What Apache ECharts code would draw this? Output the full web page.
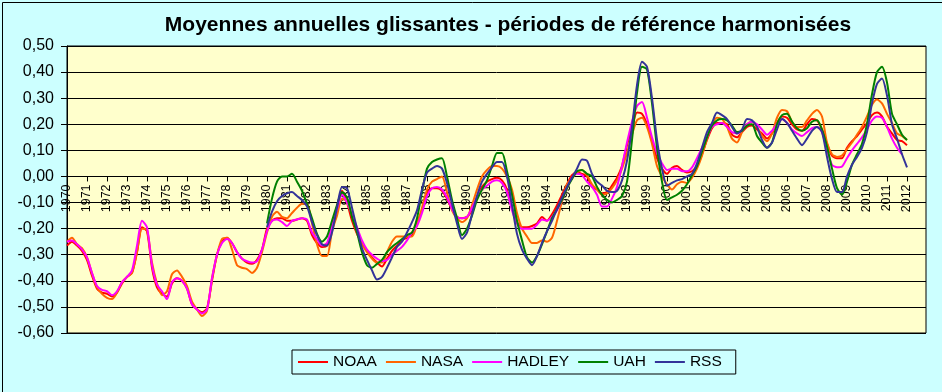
<!DOCTYPE html>
<html>
<head>
<meta charset="utf-8">
<script src="https://cdn.jsdelivr.net/npm/echarts@6/dist/echarts.min.js"></script>
<style>
html,body{margin:0;padding:0;background:#CCFFFF;}
#c{width:942px;height:392px;}
</style>
</head>
<body>
<div id="c"></div>
<script>
// Quarterly samples (step 0.25 year)
const surfaceStart = 1970;
const satelliteStart = 1980;
const step = 0.25;
const seriesNames = ['NOAA', 'NASA', 'HADLEY', 'UAH', 'RSS'];
const yearLabels = [];
for (let y = 1970; y <= 2012; y++) yearLabels.push(y);
const yMin = -0.6, yMax = 0.5, yStep = 0.1;

const noaa = [
-0.265,-0.25,-0.265,-0.285, -0.32,-0.38,-0.43,-0.445, -0.45,-0.46,-0.445,-0.41, -0.385,-0.37,-0.29,-0.195,
-0.21,-0.35,-0.425,-0.45, -0.46,-0.41,-0.39,-0.40, -0.43,-0.49,-0.51,-0.52, -0.505,-0.40,-0.30,-0.25,
-0.235,-0.255,-0.29,-0.315, -0.33,-0.335,-0.32,-0.28,
-0.20,-0.17,-0.16,-0.16, -0.17,-0.17,-0.165,-0.16, -0.17,-0.225,-0.255,-0.27, -0.265,-0.19,-0.115,-0.055,
-0.10,-0.17,-0.22,-0.255, -0.285,-0.31,-0.33,-0.345, -0.315,-0.285,-0.265,-0.245, -0.235,-0.225,-0.18,-0.13,
-0.065,-0.045,-0.045,-0.055, -0.085,-0.125,-0.155,-0.16,
-0.155,-0.13,-0.08,-0.04, -0.02,-0.01,-0.005,-0.015, -0.05,-0.12,-0.175,-0.195, -0.195,-0.19,-0.18,-0.155,
-0.17,-0.145,-0.11,-0.07, -0.03,0.005,0.015,0.01, 0.0,-0.04,-0.05,-0.065, -0.06,-0.035,-0.005,0.04,
0.12,0.185,0.245,0.24, 0.20,0.135,0.07,0.03,
0.01,0.033,0.04,0.025, 0.015,0.02,0.04,0.085, 0.14,0.185,0.205,0.205, 0.2,0.16,0.15,0.17,
0.19,0.195,0.18,0.165, 0.145,0.165,0.205,0.23, 0.225,0.2,0.18,0.175, 0.2,0.22,0.215,0.18,
0.125,0.08,0.07,0.07, 0.11,0.135,0.155,0.18,
0.205,0.235,0.245,0.23, 0.19,0.165,0.14,0.135, 0.12
];
const nasa = [
-0.25,-0.235,-0.26,-0.275, -0.31,-0.37,-0.425,-0.45, -0.465,-0.47,-0.445,-0.405, -0.385,-0.37,-0.29,-0.20,
-0.205,-0.33,-0.41,-0.455, -0.44,-0.375,-0.36,-0.385, -0.42,-0.48,-0.51,-0.535, -0.515,-0.39,-0.30,-0.24,
-0.235,-0.28,-0.34,-0.35, -0.355,-0.37,-0.35,-0.29,
-0.215,-0.155,-0.135,-0.155, -0.16,-0.14,-0.12,-0.105, -0.105,-0.18,-0.26,-0.305, -0.305,-0.21,-0.15,-0.085,
-0.095,-0.15,-0.215,-0.26, -0.29,-0.315,-0.33,-0.33, -0.29,-0.25,-0.23,-0.23, -0.23,-0.23,-0.185,-0.12,
-0.05,-0.02,-0.01,0.0, -0.06,-0.13,-0.16,-0.175,
-0.16,-0.11,-0.05,0.0, 0.025,0.04,0.04,0.03, 0.0,-0.05,-0.14,-0.20, -0.23,-0.255,-0.255,-0.245,
-0.25,-0.235,-0.17,-0.095, -0.03,-0.005,0.015,0.025, 0.005,-0.03,-0.05,-0.07, -0.065,-0.045,-0.015,0.03,
0.09,0.16,0.215,0.225, 0.19,0.125,0.04,0.0,
-0.03,-0.05,-0.03,-0.02, -0.025,-0.005,0.03,0.08, 0.145,0.2,0.225,0.22, 0.19,0.145,0.13,0.17,
0.2,0.21,0.19,0.155, 0.135,0.165,0.225,0.255, 0.25,0.21,0.19,0.19, 0.215,0.24,0.255,0.23,
0.13,0.085,0.075,0.08, 0.105,0.13,0.16,0.19,
0.23,0.275,0.295,0.28, 0.24,0.205,0.165,0.155, 0.14
];
const hadley = [
-0.25,-0.245,-0.26,-0.28, -0.31,-0.37,-0.42,-0.435, -0.44,-0.455,-0.44,-0.405, -0.385,-0.36,-0.265,-0.17,
-0.195,-0.34,-0.415,-0.44, -0.47,-0.405,-0.39,-0.40, -0.43,-0.49,-0.51,-0.525, -0.51,-0.39,-0.30,-0.255,
-0.24,-0.255,-0.29,-0.315, -0.325,-0.33,-0.325,-0.28,
-0.21,-0.17,-0.165,-0.175, -0.19,-0.17,-0.165,-0.16, -0.165,-0.215,-0.24,-0.265, -0.255,-0.19,-0.125,-0.07,
-0.10,-0.145,-0.195,-0.245, -0.28,-0.30,-0.315,-0.325, -0.32,-0.30,-0.285,-0.27, -0.245,-0.215,-0.19,-0.14,
-0.075,-0.045,-0.04,-0.05, -0.08,-0.125,-0.155,-0.16,
-0.155,-0.12,-0.08,-0.05, -0.035,-0.02,-0.015,-0.025, -0.06,-0.13,-0.18,-0.20, -0.20,-0.20,-0.185,-0.165,
-0.17,-0.155,-0.13,-0.09, -0.045,-0.005,0.01,0.005, -0.02,-0.04,-0.07,-0.115, -0.115,-0.085,-0.04,0.04,
0.13,0.21,0.27,0.285, 0.225,0.15,0.09,0.05,
0.025,0.03,0.03,0.02, 0.02,0.035,0.07,0.11, 0.15,0.19,0.2,0.205, 0.19,0.17,0.165,0.175,
0.2,0.21,0.2,0.18, 0.16,0.175,0.2,0.22, 0.205,0.18,0.165,0.155, 0.17,0.185,0.19,0.17,
0.10,0.045,0.035,0.038, 0.07,0.10,0.125,0.15,
0.18,0.215,0.23,0.225, 0.19,0.145,0.11,0.085
];
const uah = [
-0.18,-0.085,-0.02,0.0, 0.0,0.01,-0.02,-0.055, -0.105,-0.16,-0.22,-0.25, -0.23,-0.17,-0.11,-0.06,
-0.08,-0.155,-0.215,-0.29, -0.34,-0.35,-0.335,-0.32, -0.29,-0.27,-0.255,-0.24, -0.225,-0.215,-0.16,-0.06,
0.03,0.055,0.065,0.07, 0.0,-0.09,-0.16,-0.225,
-0.2,-0.15,-0.09,-0.05, -0.015,0.04,0.09,0.09, 0.02,-0.07,-0.17,-0.245, -0.31,-0.33,-0.305,-0.26,
-0.21,-0.16,-0.125,-0.09, -0.045,-0.01,0.02,0.025, 0.01,0.0,-0.04,-0.07, -0.09,-0.1,-0.09,-0.075,
-0.02,0.14,0.32,0.42, 0.41,0.28,0.11,-0.02,
-0.09,-0.08,-0.07,-0.055, -0.03,0.005,0.04,0.095, 0.15,0.195,0.215,0.22, 0.215,0.195,0.17,0.175,
0.195,0.2,0.155,0.13, 0.11,0.13,0.2,0.235, 0.24,0.21,0.185,0.175, 0.185,0.21,0.215,0.18,
0.115,0.03,-0.045,-0.07, -0.02,0.045,0.085,0.125,
0.2,0.315,0.40,0.42, 0.36,0.24,0.2,0.16, 0.14
];
const rss = [
-0.195,-0.135,-0.095,-0.075, -0.065,-0.06,-0.075,-0.09, -0.115,-0.175,-0.225,-0.26, -0.265,-0.215,-0.12,-0.04,
-0.045,-0.12,-0.2,-0.275, -0.32,-0.36,-0.395,-0.385, -0.35,-0.31,-0.27,-0.25, -0.215,-0.175,-0.13,-0.05,
0.015,0.03,0.04,0.03, -0.025,-0.105,-0.18,-0.24,
-0.215,-0.145,-0.075,-0.02, 0.01,0.035,0.055,0.055, 0.0,-0.11,-0.22,-0.28, -0.315,-0.34,-0.305,-0.255,
-0.21,-0.17,-0.125,-0.08, -0.04,-0.005,0.03,0.065, 0.06,0.01,-0.02,-0.035, -0.055,-0.06,-0.055,-0.015,
0.06,0.19,0.35,0.44, 0.42,0.3,0.14,0.03,
-0.035,-0.025,-0.015,-0.01, 0.0,0.01,0.05,0.11, 0.17,0.205,0.245,0.235, 0.22,0.19,0.165,0.18,
0.22,0.215,0.19,0.14, 0.11,0.13,0.18,0.22, 0.205,0.175,0.145,0.12, 0.145,0.175,0.19,0.17,
0.075,-0.01,-0.06,-0.06, 0.0,0.045,0.075,0.11,
0.17,0.28,0.355,0.375, 0.31,0.2,0.145,0.085, 0.035
];

const colors = ['#FF0000', '#FF6600', '#FF00FF', '#008000', '#333399'];
const starts = [surfaceStart, surfaceStart, surfaceStart, satelliteStart, satelliteStart];
const values = [noaa, nasa, hadley, uah, rss];

function pairs(arr, start) {
  return arr.map((v, i) => [start + i * step, v]);
}

const FONT = 'Liberation Sans, Arial, sans-serif';
const gridTop = 46, gridHeight = 287;
// distance from bottom of plot to the zero line, so the year labels hang from y = 0
const zeroFromBottom = gridHeight * (0 - yMin) / (yMax - yMin);

const chart = echarts.init(document.getElementById('c'));
chart.setOption({
  backgroundColor: '#CCFFFF',
  animation: false,
  title: {
    text: 'Moyennes annuelles glissantes - périodes de référence harmonisées',
    left: 503, top: 10, textAlign: 'center',
    textStyle: { fontFamily: FONT, fontSize: 21, fontWeight: 'bold', color: '#000' }
  },
  graphic: [{
    type: 'rect', left: 0, top: 0, silent: true,
    shape: { width: 941, height: 391 },
    style: { fill: 'none', stroke: '#000', lineWidth: 1 }
  }],
  grid: {
    left: 67, top: gridTop, width: 859, height: gridHeight,
    show: true, backgroundColor: '#FFFFCC', borderColor: '#000', borderWidth: 1
  },
  legend: {
    data: seriesNames,
    left: 292, top: 350,
    orient: 'horizontal',
    icon: 'rect', itemWidth: 30, itemHeight: 2, itemGap: 9,
    padding: [4, 14, 4, 6],
    borderColor: '#000', borderWidth: 1,
    textStyle: { fontFamily: FONT, fontSize: 15.5, color: '#000' }
  },
  xAxis: {
    type: 'value', min: 1970, max: 2012.95, interval: 1,
    position: 'bottom',
    offset: -zeroFromBottom,
    axisLine: { onZero: false, lineStyle: { color: '#000', width: 1 } },
    axisTick: { show: true, length: 5, lineStyle: { color: '#000' } },
    splitLine: { show: false },
    axisLabel: {
      rotate: 90, margin: 8, showMaxLabel: false,
      fontFamily: FONT, fontSize: 12.5, color: '#000',
      formatter: v => (yearLabels.indexOf(v) >= 0 ? String(v) : '')
    }
  },
  yAxis: {
    type: 'value', min: yMin, max: yMax, interval: yStep,
    axisLine: { show: true, lineStyle: { color: '#000' } },
    axisTick: { show: true, length: 6, lineStyle: { color: '#000' } },
    splitLine: { show: true, lineStyle: { color: '#000', width: 1 } },
    axisLabel: {
      margin: 13, fontFamily: FONT, fontSize: 16, color: '#000',
      formatter: v => v.toFixed(2).replace('.', ',')
    }
  },
  series: seriesNames.map((name, k) => ({
    name, type: 'line',
    data: pairs(values[k], starts[k]),
    showSymbol: false, smooth: 0.25,
    lineStyle: { color: colors[k], width: 2 },
    itemStyle: { color: colors[k] },
    z: 2 + k
  }))
});
</script>
</body>
</html>
